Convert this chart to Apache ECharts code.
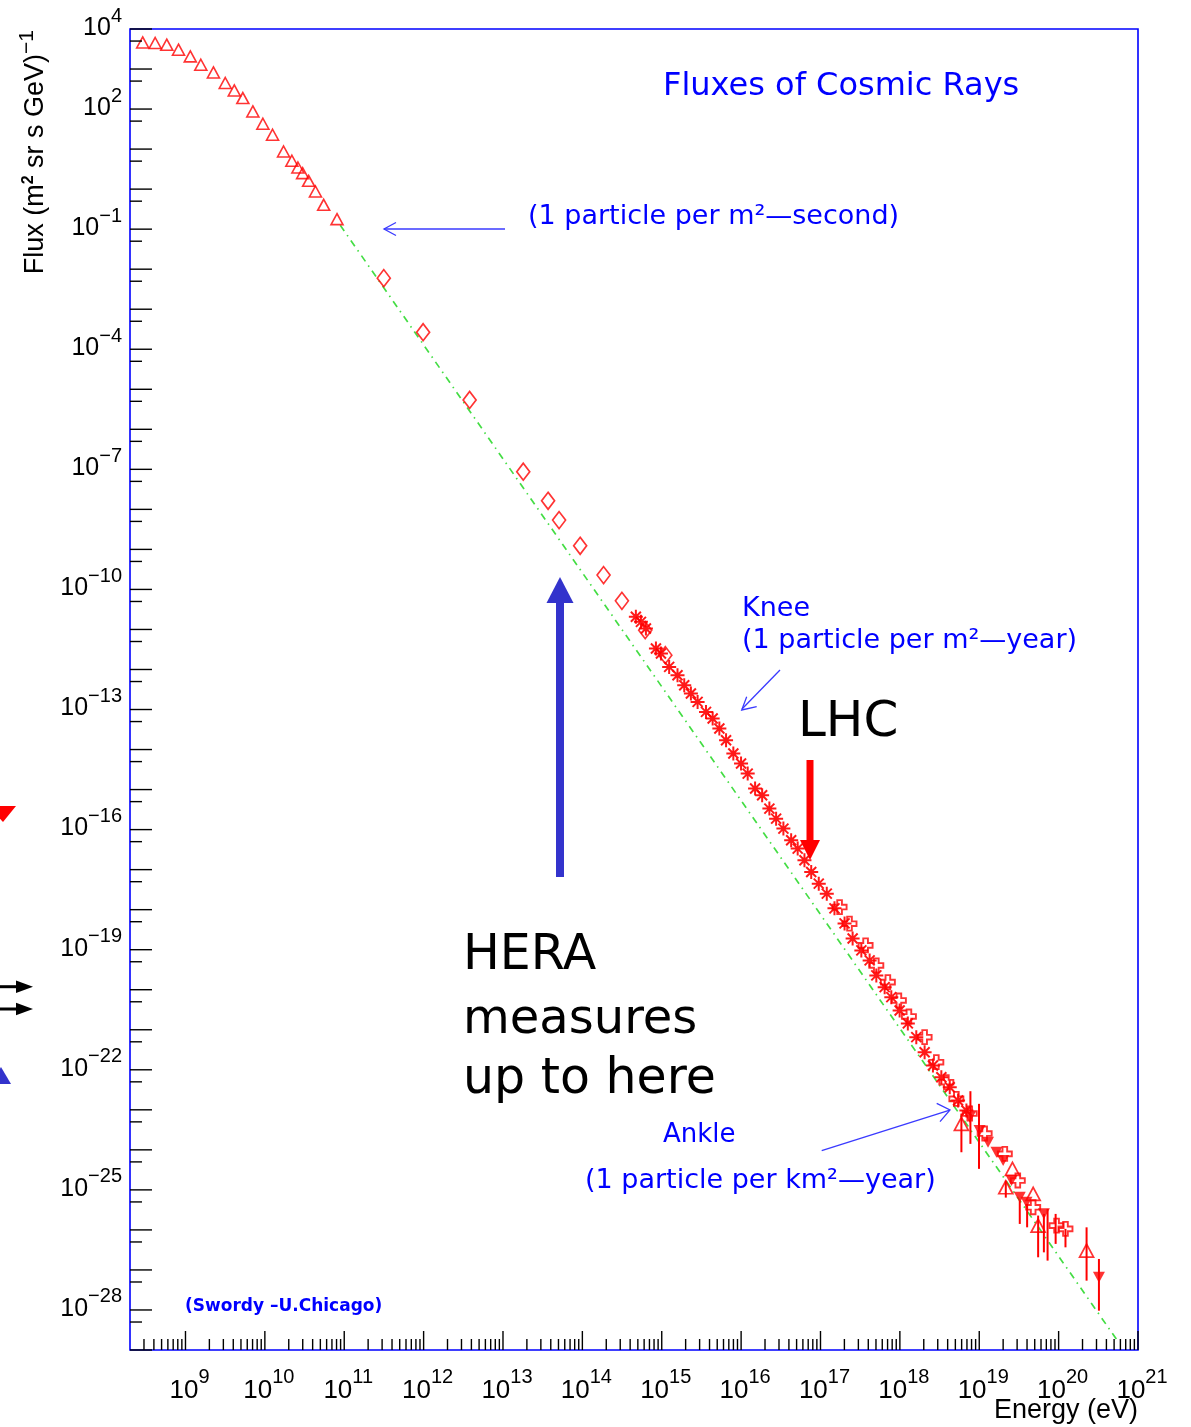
<!DOCTYPE html>
<html>
<head>
<meta charset="utf-8">
<script src="https://cdn.jsdelivr.net/npm/echarts@6/dist/echarts.min.js"></script>
<style>
html,body{margin:0;padding:0;background:#ffffff;}
#chart{width:1191px;height:1427px;}
</style>
</head>
<body>
<div id="chart"></div>
<script>
// ---------------- data (energy in eV, flux in (m^2 sr s GeV)^-1) ----------------
const triE = [2.89e8, 4.15e8, 5.81e8, 8.17e8, 1.15e9, 1.56e9, 2.25e9, 3.17e9, 4.12e9, 5.28e9, 7.06e9, 9.44e9, 1.25e10, 1.72e10, 2.19e10, 2.61e10, 2.99e10, 3.56e10, 4.34e10, 5.51e10, 8.11e10];
const triF = [4.62e3, 4.47e3, 4.05e3, 3.04e3, 2.07e3, 1.28e3, 822, 447, 292, 188, 87.1, 43.0, 22.8, 8.71, 5.11, 3.47, 2.51, 1.61, 0.871, 0.405, 0.178];

const diaE = [3.15e11, 9.86e11, 3.80e12, 1.80e13, 3.70e13, 5.09e13, 9.38e13, 1.85e14, 3.15e14, 6.19e14, 1.11e15];
const diaF = [5.96e-3, 2.66e-4, 5.40e-6, 8.71e-8, 1.64e-8, 5.40e-9, 1.23e-9, 2.28e-10, 5.19e-11, 9.59e-12, 2.28e-12];

const starE = [4.72e14, 5.47e14, 6.32e14, 8.45e14, 9.77e14, 1.24e15, 1.58e15, 1.92e15, 2.33e15, 2.83e15,
               3.61e15, 4.38e15, 5.32e15, 6.46e15, 7.98e15, 9.98e15, 1.21e16, 1.50e16, 1.84e16, 2.27e16,
               2.76e16, 3.41e16, 4.27e16, 5.16e16, 6.28e16, 7.64e16, 9.51e16, 1.20e17, 1.50e17, 2.01e17,
               2.54e17, 3.27e17, 4.16e17, 5.05e17, 6.43e17, 7.80e17, 9.93e17, 1.26e18, 1.61e18, 2.05e18,
               2.61e18, 3.33e18, 4.25e18, 5.41e18, 6.89e18];
const starF = [2.07e-11, 1.55e-11, 1.06e-11, 3.35e-12, 2.51e-12, 1.16e-12, 7.19e-13, 4.05e-13, 2.51e-13, 1.55e-13,
               8.71e-14, 5.96e-14, 3.35e-14, 1.71e-14, 7.94e-15, 4.47e-15, 2.51e-15, 1.06e-15, 7.19e-16, 3.35e-16,
               1.88e-16, 1.06e-16, 5.40e-17, 3.35e-17, 1.71e-17, 8.71e-18, 4.47e-18, 2.51e-18, 1.08e-18, 4.54e-19,
               1.91e-19, 9.59e-20, 5.40e-20, 2.28e-20, 1.16e-20, 6.53e-21, 3.03e-21, 1.44e-21, 6.53e-22, 2.75e-22,
               1.28e-22, 6.53e-23, 3.67e-23, 1.71e-23, 9.59e-24];

const crossE = [1.74e17, 2.32e17, 3.70e17, 5.05e17, 7.06e17, 9.72e17, 1.30e18, 2.05e18, 2.88e18, 3.85e18, 5.15e18, 7.59e18, 1.17e19, 2.10e19, 3.06e19, 4.78e19, 9.42e19, 1.22e20];
const crossF = [1.16e-18, 4.47e-19, 1.28e-19, 4.05e-20, 1.55e-20, 5.40e-21, 2.15e-21, 6.53e-22, 1.55e-22, 4.90e-23, 1.88e-23, 8.07e-24, 2.55e-24, 7.94e-25, 1.71e-25, 3.67e-26, 1.28e-26, 1.06e-26];

const hiTriE = [5.96e18, 2.16e19, 2.62e19, 4.78e19, 5.52e19, 2.25e20];
const hiTriF = [4.47e-24, 1.16e-25, 3.35e-25, 7.94e-26, 1.28e-26, 3.03e-27];

const downE = [7.59e18, 1.01e19, 1.29e19, 1.65e19, 2.00e19, 2.55e19, 3.24e19, 3.94e19, 6.52e19, 3.22e20];
const downF = [6.53e-24, 3.03e-24, 1.55e-24, 8.71e-25, 5.40e-25, 1.71e-25, 6.53e-26, 4.90e-26, 2.55e-26, 6.53e-28];

const errE    = [5.96e18, 7.74e18, 9.93e18, 2.16e19, 3.24e19, 4.01e19, 5.52e19, 6.52e19, 7.26e19, 9.17e19, 1.22e20, 2.25e20, 3.22e20];
const errHigh = [8.07e-24, 2.92e-23, 1.41e-23, 1.71e-25, 5.40e-26, 4.47e-26, 2.28e-26, 2.51e-26, 3.35e-26, 2.51e-26, 1.06e-26, 1.16e-26, 1.88e-27];
const errLow  = [8.71e-25, 1.41e-24, 3.35e-25, 6.41e-26, 1.41e-26, 1.16e-26, 2.07e-27, 2.75e-27, 1.71e-27, 4.47e-27, 3.67e-27, 5.40e-28, 9.59e-29];

const fitE = [8.91e10, 5.43e20];
const fitF = [0.125, 1.78e-29];

// ---------------- axes / ticks ----------------
const X_MIN = 2e8, X_MAX = 1e21, Y_MIN = 1e-29, Y_MAX = 1e4;
const xLabelExps = [9, 10, 11, 12, 13, 14, 15, 16, 17, 18, 19, 20, 21];
const xMinorDecades = [8, 9, 10, 11, 12, 13, 14, 15, 16, 17, 18, 19, 20];
const xMinorMultipliers = [2, 3, 4, 5, 6, 7, 8, 9];
const yLabelExps = [4, 2, -1, -4, -7, -10, -13, -16, -19, -22, -25, -28];
const yMajorExps = [-29, -28, -27, -26, -25, -24, -23, -22, -21, -20, -19, -18, -17, -16, -15, -14, -13, -12, -11, -10,
                    -9, -8, -7, -6, -5, -4, -3, -2, -1, 0, 1, 2, 3, 4];
const yMinorExps = [-29, -28, -27, -26, -25, -24, -23, -22, -21, -20, -19, -18, -17, -16, -15, -14, -13, -12, -11, -10,
                    -9, -8, -7, -6, -5, -4, -3, -2, -1, 0, 1, 2, 3];
const yMinorMultiplier = 5;

// ---------------- build ----------------
const pairs = (a, b) => a.map((v, i) => [v, b[i]]);
const expText = e => (e < 0 ? '\u2212' + (-e) : String(e));

const xTickData = [];
xLabelExps.forEach(e => xTickData.push([Math.pow(10, e), Y_MIN, 1]));
xMinorDecades.forEach(e => xMinorMultipliers.forEach(k => {
  const v = k * Math.pow(10, e);
  if (v > X_MIN && v < X_MAX) xTickData.push([v, Y_MIN, 0]);
}));
const yTickData = [];
yMajorExps.forEach(e => yTickData.push([X_MIN, Math.pow(10, e), 1]));
yMinorExps.forEach(e => yTickData.push([X_MIN, yMinorMultiplier * Math.pow(10, e), 0]));

const xLabelData = xLabelExps.map(e => [Math.pow(10, e), Y_MIN]);
const yLabelData = yLabelExps.map(e => [X_MIN, Math.pow(10, e)]);

const RED = '#ff0000';
const BLUE = '#0000ff';
const ARROWBLUE = '#3a3aff';
const HOLLOW = 'rgba(255,255,255,0)';
const NUMFONT = 'Liberation Sans';
const ANNFONT = 'DejaVu Sans';

const starPath = 'path://M-1,-7L1,-7L1,7L-1,7Z M-7,-1L7,-1L7,1L-7,1Z M-5.7,-4.3L-4.3,-5.7L5.7,4.3L4.3,5.7Z M4.3,-5.7L5.7,-4.3L-4.3,5.7L-5.7,4.3Z';
const crossPath = 'path://M-2,-6L2,-6L2,-2L6,-2L6,2L2,2L2,6L-2,6L-2,2L-6,2L-6,-2L-2,-2Z';
const downPath = 'path://M0,0L10,0L5,9Z';

const xRich = {
  b: {fontFamily: NUMFONT, fontSize: 26, lineHeight: 30, fill: '#000'},
  s: {fontFamily: NUMFONT, fontSize: 20, lineHeight: 30, padding: [0, 0, 28, 0], fill: '#000'}
};
const yRich = {
  b: {fontFamily: NUMFONT, fontSize: 25, lineHeight: 30, fill: '#000'},
  s: {fontFamily: NUMFONT, fontSize: 20, lineHeight: 30, padding: [0, 0, 24, 0], fill: '#000'}
};

function txt(x, y, text, font, fill, align) {
  return {type: 'text', x: x, y: y, silent: true,
    style: {text: text, font: font, fill: fill, align: align || 'left', verticalAlign: 'middle',
            textAlign: align || 'left', textVerticalAlign: 'middle'}};
}
function seg(x1, y1, x2, y2, color, w) {
  return {type: 'line', silent: true, shape: {x1: x1, y1: y1, x2: x2, y2: y2}, style: {stroke: color, lineWidth: w}};
}
function head(points, color, w) {
  return {type: 'polyline', silent: true, shape: {points: points}, style: {stroke: color, lineWidth: w, fill: null}};
}
function poly(points, color) {
  return {type: 'polygon', silent: true, shape: {points: points}, style: {fill: color}};
}

const chart = echarts.init(document.getElementById('chart'), null, {renderer: 'canvas'});

const option = {
  backgroundColor: '#ffffff',
  animation: false,
  grid: {left: 130, right: 53, top: 29, bottom: 77, show: true, borderColor: BLUE, borderWidth: 1.6, backgroundColor: 'rgba(0,0,0,0)'},
  xAxis: {
    type: 'log', logBase: 10, min: X_MIN, max: X_MAX,
    axisLine: {show: false}, axisTick: {show: false}, axisLabel: {show: false}, splitLine: {show: false},
    name: 'Energy (eV)', nameLocation: 'end', nameGap: 0,
    nameTextStyle: {fontFamily: NUMFONT, fontSize: 27, color: '#000', align: 'right', verticalAlign: 'top', lineHeight: 30, padding: [46, 0, 0, 0]}
  },
  yAxis: {
    type: 'log', logBase: 10, min: Y_MIN, max: Y_MAX,
    axisLine: {show: false}, axisTick: {show: false}, axisLabel: {show: false}, splitLine: {show: false},
    name: 'Flux (m{s|2} sr s GeV){t|\u22121}', nameLocation: 'end', nameGap: -1, nameRotate: 90,
    nameTextStyle: {
      fontFamily: NUMFONT, fontSize: 27, color: '#000', align: 'right', verticalAlign: 'bottom', lineHeight: 30,
      padding: [0, 0, 79, 0],
      rich: {
        s: {fontFamily: NUMFONT, fontSize: 16, fontWeight: 'bold', color: '#000', lineHeight: 30, padding: [0, 0, 14, 0]},
        t: {fontFamily: NUMFONT, fontSize: 21, color: '#000', lineHeight: 30, padding: [0, 0, 18, 0]}
      }
    }
  },
  series: [
    {
      type: 'line', data: pairs(fitE, fitF), showSymbol: false, symbol: 'none', silent: true, z: 1,
      lineStyle: {color: '#44dd44', width: 1.7, type: [7, 5, 1.5, 5]}
    },
    {
      type: 'scatter', data: pairs(triE, triF), symbol: 'triangle', symbolSize: [12, 11], silent: true, z: 3,
      itemStyle: {color: HOLLOW, borderColor: RED, borderWidth: 1.6}
    },
    {
      type: 'scatter', data: pairs(diaE, diaF), symbol: 'diamond', symbolSize: [13, 17], silent: true, z: 3,
      itemStyle: {color: HOLLOW, borderColor: RED, borderWidth: 1.7}
    },
    {
      type: 'scatter', data: pairs(starE, starF), symbol: starPath, symbolSize: 14, silent: true, z: 3,
      itemStyle: {color: RED, opacity: 0.9}
    },
    {
      type: 'scatter', data: pairs(crossE, crossF), symbol: crossPath, symbolSize: 14, silent: true, z: 4,
      itemStyle: {color: HOLLOW, borderColor: RED, borderWidth: 1.9}
    },
    {
      type: 'custom', coordinateSystem: 'cartesian2d', silent: true, clip: false, z: 3,
      data: errE.map((v, i) => [v, errHigh[i], errLow[i]]),
      encode: {x: 0, y: [1, 2]},
      renderItem: function (params, api) {
        const p1 = api.coord([api.value(0), api.value(1)]);
        const p2 = api.coord([api.value(0), api.value(2)]);
        return {type: 'line', shape: {x1: p1[0], y1: p1[1], x2: p2[0], y2: p2[1]}, style: {stroke: RED, lineWidth: 2}};
      }
    },
    {
      type: 'scatter', data: pairs(downE, downF), symbol: downPath, symbolSize: [12, 11], silent: true, z: 4,
      itemStyle: {color: RED}
    },
    {
      type: 'scatter', data: pairs(hiTriE, hiTriF), symbol: 'triangle', symbolSize: [14, 13], silent: true, z: 4,
      itemStyle: {color: HOLLOW, borderColor: RED, borderWidth: 1.7}
    },
    // x-axis ticks (inside frame)
    {
      type: 'custom', coordinateSystem: 'cartesian2d', silent: true, clip: false, z: 10,
      data: xTickData, encode: {x: 0, y: 1},
      renderItem: function (params, api) {
        const p = api.coord([api.value(0), Y_MIN]);
        const len = api.value(2) ? 19 : 11;
        return {type: 'line', shape: {x1: p[0], y1: p[1], x2: p[0], y2: p[1] - len}, style: {stroke: '#000', lineWidth: 1.4}};
      }
    },
    // y-axis ticks (inside frame)
    {
      type: 'custom', coordinateSystem: 'cartesian2d', silent: true, clip: false, z: 10,
      data: yTickData, encode: {x: 0, y: 1},
      renderItem: function (params, api) {
        const p = api.coord([X_MIN, api.value(1)]);
        const len = api.value(2) ? 22 : 12;
        return {type: 'line', shape: {x1: p[0], y1: p[1], x2: p[0] + len, y2: p[1]}, style: {stroke: '#000', lineWidth: 1.4}};
      }
    },
    // x tick labels
    {
      type: 'custom', coordinateSystem: 'cartesian2d', silent: true, clip: false, z: 10,
      data: xLabelData, encode: {x: 0, y: 1},
      renderItem: function (params, api) {
        const v = api.value(0);
        const e = Math.round(Math.log10(v));
        const p = api.coord([v, Y_MIN]);
        return {type: 'text', x: p[0] + 4, y: p[1] + 41,
          style: {text: '{b|10}{s|' + expText(e) + '}', rich: xRich, fill: '#000', align: 'center', verticalAlign: 'middle'}};
      }
    },
    // y tick labels
    {
      type: 'custom', coordinateSystem: 'cartesian2d', silent: true, clip: false, z: 10,
      data: yLabelData, encode: {x: 0, y: 1},
      renderItem: function (params, api) {
        const v = api.value(1);
        const e = Math.round(Math.log10(v));
        const p = api.coord([X_MIN, v]);
        return {type: 'text', x: p[0] - 8, y: p[1] - 1,
          style: {text: '{b|10}{s|' + expText(e) + '}', rich: yRich, fill: '#000', align: 'right', verticalAlign: 'middle'}};
      }
    }
  ],
  graphic: [
    // annotations
    txt(663, 86.6, 'Fluxes of Cosmic Rays', '32px "' + ANNFONT + '"', BLUE),
    txt(528, 217.4, '(1 particle per m\u00b2\u2014second)', '27px "' + ANNFONT + '"', BLUE),
    seg(505, 229, 384, 229, ARROWBLUE, 1.3),
    head([[396, 222.5], [384, 229], [396, 235.5]], ARROWBLUE, 1.3),
    txt(742, 609, 'Knee', '27px "' + ANNFONT + '"', BLUE),
    txt(742, 640.7, '(1 particle per m\u00b2\u2014year)', '27px "' + ANNFONT + '"', BLUE),
    seg(780, 670, 742, 709, ARROWBLUE, 1.3),
    head([[756.7, 706.7], [741.7, 710], [746.7, 696.7]], ARROWBLUE, 1.3),
    txt(663, 1135.7, 'Ankle', '26px "' + ANNFONT + '"', BLUE),
    txt(585, 1180.7, '(1 particle per km\u00b2\u2014year)', '27px "' + ANNFONT + '"', BLUE),
    seg(821.7, 1150.7, 949, 1110.3, ARROWBLUE, 1.3),
    head([[936.7, 1103.3], [950, 1110], [940, 1121.7]], ARROWBLUE, 1.3),
    txt(185, 1307, '(Swordy \u2013U.Chicago)', 'bold 17px "' + ANNFONT + '"', BLUE),
    // LHC
    txt(798, 722.7, 'LHC', '50px "' + ANNFONT + '"', '#000'),
    {type: 'rect', silent: true, shape: {x: 806.5, y: 760, width: 7, height: 82}, style: {fill: RED}},
    poly([[800, 840], [820, 840], [810, 860]], RED),
    // HERA
    {type: 'rect', silent: true, shape: {x: 556, y: 601, width: 8, height: 276}, style: {fill: '#3333cc'}},
    poly([[546.5, 603], [573.5, 603], [560, 577]], '#3333cc'),
    txt(463, 956.4, 'HERA', '49px "' + ANNFONT + '"', '#000'),
    txt(463, 1020.4, 'measures', '48px "' + ANNFONT + '"', '#000'),
    txt(463, 1080.4, 'up to here', '49px "' + ANNFONT + '"', '#000'),
    // fragments at left page edge
    poly([[-12, 806], [16, 806], [3, 822]], RED),
    {type: 'rect', silent: true, shape: {x: 0, y: 985.2, width: 17, height: 3}, style: {fill: '#000'}},
    poly([[16, 980.5], [33, 986.7], [16, 993]], '#000'),
    {type: 'rect', silent: true, shape: {x: 0, y: 1007.5, width: 17, height: 3}, style: {fill: '#000'}},
    poly([[16, 1002.8], [33, 1009], [16, 1015.3]], '#000'),
    poly([[-10, 1084], [11, 1084], [1, 1067]], '#3333cc')
  ]
};
chart.setOption(option);
</script>
</body>
</html>
